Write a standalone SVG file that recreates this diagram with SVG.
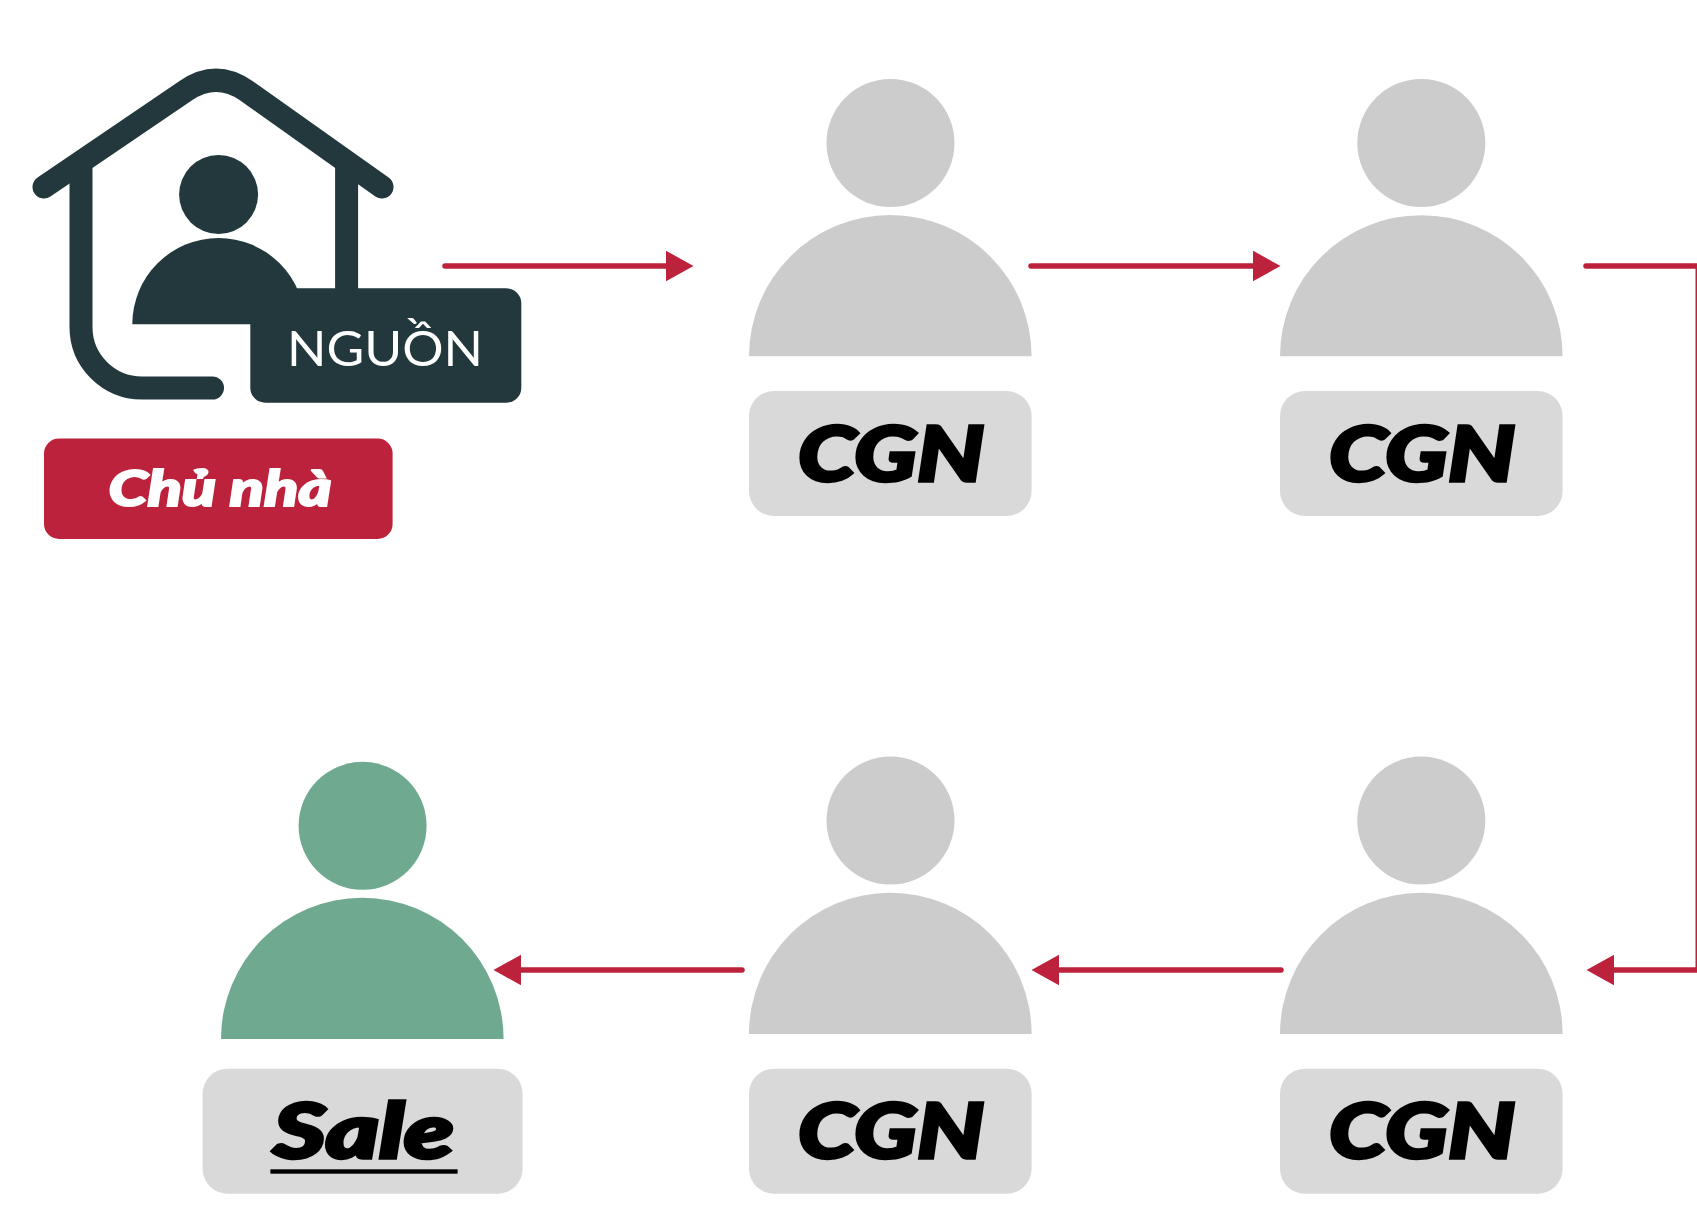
<svg xmlns="http://www.w3.org/2000/svg" width="1697" height="1205" viewBox="0 0 1697 1205">
<style>
.head{fill:#ccc}.body{fill:#ccc}.lab{fill:#d9d9d9}
.g{fill:#6fa98f}.dark{fill:#22383c}
.ds{fill:none;stroke:#22383c;stroke-width:23;stroke-linecap:round}
.c{fill:none;stroke:#bc223c;stroke-width:5.5;stroke-linecap:round}
.t{font-family:Lato,"Liberation Sans",sans-serif;font-weight:900;font-style:italic;fill:#000;stroke:#000;stroke-width:3.4;stroke-miterlimit:2}
.cgn{font-size:76px}
</style>
<defs>
<marker id="ah" markerUnits="userSpaceOnUse" markerWidth="28" markerHeight="32" refX="1" refY="15.5" orient="auto"><path d="M0,0.2 L27.5,15.5 L0,30.8Z" fill="#bc223c"/></marker>
</defs>
<rect width="1697" height="1205" fill="#fff"/>
<g id="connectors">
<path class="c" d="M445,266H667" marker-end="url(#ah)"/>
<path class="c" d="M1031,266H1254" marker-end="url(#ah)"/>
<path class="c" d="M1586,266H1697"/>
<path d="M1696.3,266V970" fill="none" stroke="#bc223c" stroke-width="1.6"/>
<path class="c" style="stroke-linecap:butt" d="M1697,970H1613" marker-end="url(#ah)"/>
<path class="c" d="M1281,970H1058" marker-end="url(#ah)"/>
<path class="c" d="M742,970H520" marker-end="url(#ah)"/>
</g>
<g id="chu-nha">
<path class="ds" d="M44,187L186,90.5Q216,70 246,90.5L382,187"/>
<path class="ds" style="stroke-linecap:butt" d="M346.6,160V295"/>
<path class="ds" d="M81,170V327A61,61 0 0 0 142,388H212.5"/>
<circle class="dark" cx="218.6" cy="194.5" r="39.5"/>
<path class="dark" d="M132.3,324.3A86.3,86.3 0 0 1 304.9,324.3Z"/>
<rect class="dark" x="250.3" y="288.3" width="271" height="114.4" rx="15"/>
<text x="287" y="366" font-family="Lato,'Liberation Sans',sans-serif" font-size="49" font-weight="400" fill="#fff" textLength="196" lengthAdjust="spacingAndGlyphs">NGUỒN</text>
<rect x="44" y="438.5" width="348.6" height="100.5" rx="15" fill="#bc223c"/>
<text class="t" x="108.5" y="505.7" font-size="50" style="fill:#fff;stroke:#fff;stroke-width:2" textLength="223" lengthAdjust="spacingAndGlyphs">Chủ nhà</text>
</g>
<g id="cgn-1">
<circle class="head" cx="890.5" cy="143" r="64"/>
<path class="body" d="M749,356.3A141.3,141.3 0 0 1 1031.6,356.3Z"/>
<rect class="lab" x="749" y="391" width="282.6" height="125" rx="25"/>
<text class="t cgn" x="798" y="481" textLength="186" lengthAdjust="spacingAndGlyphs">CGN</text>
</g>
<g id="cgn-2">
<circle class="head" cx="1421.3" cy="143" r="64"/>
<path class="body" d="M1280,356.3A141.3,141.3 0 0 1 1562.6,356.3Z"/>
<rect class="lab" x="1280" y="391" width="282.6" height="125" rx="25"/>
<text class="t cgn" x="1329" y="481" textLength="186" lengthAdjust="spacingAndGlyphs">CGN</text>
</g>
<g id="cgn-3">
<circle class="head" cx="1421.3" cy="820.6" r="64"/>
<path class="body" d="M1280,1034A141.3,141.3 0 0 1 1562.6,1034Z"/>
<rect class="lab" x="1280" y="1068.7" width="282.6" height="125" rx="25"/>
<text class="t cgn" x="1329" y="1157.6" textLength="186" lengthAdjust="spacingAndGlyphs">CGN</text>
</g>
<g id="cgn-4">
<circle class="head" cx="890.5" cy="820.6" r="64"/>
<path class="body" d="M749,1034A141.3,141.3 0 0 1 1031.6,1034Z"/>
<rect class="lab" x="749" y="1068.7" width="282.6" height="125" rx="25"/>
<text class="t cgn" x="798" y="1157.6" textLength="186" lengthAdjust="spacingAndGlyphs">CGN</text>
</g>
<g id="sale">
<circle class="g" cx="362.6" cy="825.8" r="64"/>
<path class="g" d="M221,1039A141.3,141.3 0 0 1 503.6,1039Z"/>
<rect class="lab" x="202.6" y="1068.7" width="320" height="125" rx="25"/>
<text class="t cgn" x="273" y="1157.6" textLength="181" lengthAdjust="spacingAndGlyphs">Sale</text>
<rect x="270.4" y="1169.3" width="187.2" height="4.4" fill="#000"/>
</g>
</svg>
